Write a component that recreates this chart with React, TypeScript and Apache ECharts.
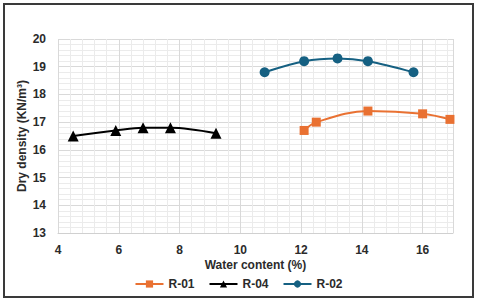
import React, { useEffect, useRef } from "react";
import * as echarts from "echarts";

const r01X = [12.1, 12.5, 14.2, 16.0, 16.9];
const r01Y = [16.7, 17.0, 17.4, 17.3, 17.1];
const r04X = [4.5, 5.9, 6.8, 7.7, 9.2];
const r04Y = [16.5, 16.7, 16.8, 16.8, 16.6];
const r02X = [10.8, 12.1, 13.2, 14.2, 15.7];
const r02Y = [18.8, 19.2, 19.3, 19.2, 18.8];

const pairs = (xs: number[], ys: number[]) => xs.map((x, i) => [x, ys[i]]);

const FONT = "'Liberation Sans', Arial, sans-serif";

export default function App() {
  const ref = useRef<HTMLDivElement>(null);
  useEffect(() => {
    if (!ref.current) return;
    const chart = echarts.init(ref.current, undefined, { renderer: "svg" });
    const labelStyle = { color: "#2b2b2b", fontWeight: "bold" as const, fontSize: 12, fontFamily: FONT };
    chart.setOption({
      animation: false,
      backgroundColor: "#fff",
      graphic: [
        {
          type: "rect",
          shape: { x: 4, y: 4, width: 469, height: 293 },
          style: { fill: "none", stroke: "#3a3a3a", lineWidth: 2 },
          silent: true,
        },
      ],
      grid: { left: 58, right: 24, top: 39, bottom: 69 },
      xAxis: {
        type: "value",
        min: 4,
        max: 17,
        interval: 2,
        name: "Water content (%)",
        nameLocation: "middle",
        nameGap: 26,
        nameMoveOverlap: false,
        nameTextStyle: { ...labelStyle },
        axisLine: { show: true, lineStyle: { color: "#d0d0d0" } },
        axisTick: { show: false },
        axisLabel: { ...labelStyle, margin: 11, showMaxLabel: false },
        splitLine: { show: true, lineStyle: { color: "#d9d9d9", width: 1 } },
        minorTick: { show: false, splitNumber: 5 },
        minorSplitLine: { show: true, lineStyle: { color: "#ebebeb", width: 1 } },
      },
      yAxis: {
        type: "value",
        min: 13,
        max: 20,
        interval: 1,
        name: "Dry density (KN/m³)",
        nameLocation: "middle",
        nameGap: 30,
        nameMoveOverlap: false,
        nameTextStyle: { ...labelStyle },
        axisLine: { show: false },
        axisTick: { show: false },
        axisLabel: { ...labelStyle, margin: 12 },
        splitLine: { show: true, lineStyle: { color: "#d9d9d9", width: 1 } },
        minorTick: { show: false, splitNumber: 5 },
        minorSplitLine: { show: true, lineStyle: { color: "#ebebeb", width: 1 } },
      },
      legend: {
        bottom: 7,
        left: "center",
        itemWidth: 28,
        itemHeight: 9,
        itemGap: 14,
        textStyle: labelStyle,
        data: ["R-01", "R-04", "R-02"],
      },
      series: [
        {
          name: "R-01",
          type: "line",
          smooth: 0.35,
          data: pairs(r01X, r01Y),
          symbol: "rect",
          symbolSize: 9,
          itemStyle: { color: "#E97132" },
          lineStyle: { color: "#E97132", width: 2 },
        },
        {
          name: "R-04",
          type: "line",
          smooth: 0.35,
          data: pairs(r04X, r04Y),
          symbol: "triangle",
          symbolSize: 11,
          itemStyle: { color: "#000" },
          lineStyle: { color: "#000", width: 2 },
        },
        {
          name: "R-02",
          type: "line",
          smooth: 0.35,
          data: pairs(r02X, r02Y),
          symbol: "circle",
          symbolSize: 10,
          itemStyle: { color: "#156082" },
          lineStyle: { color: "#156082", width: 2 },
        },
      ],
    });
    return () => chart.dispose();
  }, []);
  return (
    <div
      ref={ref}
      style={{ position: "fixed", left: 0, top: 0, width: 477, height: 302 }}
    />
  );
}
